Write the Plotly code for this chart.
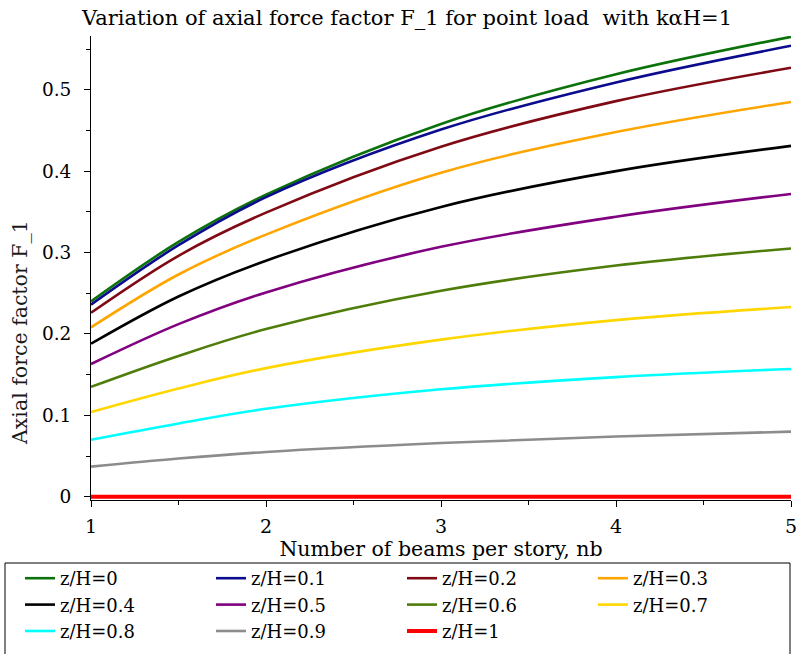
import plotly.graph_objects as go

# Number of beams per story
nb = [1, 1.5, 2, 3, 4, 5]

# Axial force factor F_1 for each relative height z/H
f_z00 = [0.240, 0.313, 0.371, 0.458, 0.519, 0.565]
f_z01 = [0.236, 0.309, 0.368, 0.451, 0.509, 0.554]
f_z02 = [0.226, 0.296, 0.349, 0.430, 0.486, 0.527]
f_z03 = [0.208, 0.273, 0.322, 0.398, 0.448, 0.485]
f_z04 = [0.188, 0.246, 0.290, 0.356, 0.400, 0.431]
f_z05 = [0.163, 0.212, 0.251, 0.307, 0.344, 0.372]
f_z06 = [0.135, 0.173, 0.206, 0.253, 0.284, 0.305]
f_z07 = [0.104, 0.133, 0.158, 0.193, 0.217, 0.233]
f_z08 = [0.070, 0.090, 0.108, 0.132, 0.147, 0.157]
f_z09 = [0.037, 0.047, 0.055, 0.066, 0.074, 0.080]
f_z10 = [0.0, 0.0, 0.0, 0.0, 0.0, 0.0]

labels = ["z/H=0", "z/H=0.1", "z/H=0.2", "z/H=0.3", "z/H=0.4", "z/H=0.5",
          "z/H=0.6", "z/H=0.7", "z/H=0.8", "z/H=0.9", "z/H=1"]
series = [f_z00, f_z01, f_z02, f_z03, f_z04, f_z05,
          f_z06, f_z07, f_z08, f_z09, f_z10]
colors = ["#0b720b", "#0b0b8e", "#800a14", "#ffa500", "#000000", "#800080",
          "#4e7d0a", "#ffd700", "#00ffff", "#8c8c8c", "#ff0000"]

FONT = "DejaVu Serif, Liberation Serif, serif"
W, H = 796, 654
# plot area in pixels
PL, PR, PT, PB = 91, 791, 36, 500
PW, PH = PR - PL, PB - PT


def px_x(x):
    return (x - PL) / PW


def px_y(y):
    return (PB - y) / PH


fig = go.Figure()
for name, ys, c in zip(labels, series, colors):
    fig.add_trace(go.Scatter(
        x=nb, y=ys, name=name, mode="lines",
        line=dict(color=c, width=4 if name == "z/H=1" else 2.6,
                  shape="spline", smoothing=1.0),
    ))

fig.update_layout(
    width=W, height=H,
    margin=dict(l=PL, r=W - PR, t=PT, b=H - PB, autoexpand=False),
    paper_bgcolor="white", plot_bgcolor="white",
    font=dict(family=FONT, size=18, color="black"),
    title=dict(
        text="Variation of axial force factor F_1 for point load  with k\u03b1H=1",
        x=407 / W, xanchor="center", xref="container",
        y=1 - 18 / H, yanchor="middle", yref="container",
        font=dict(family=FONT, size=21, color="black"),
    ),
    xaxis=dict(
        range=[1, 5], showgrid=False, zeroline=False,
        showline=True, linecolor="black", linewidth=1,
        ticks="outside", ticklen=6, tickcolor="black",
        tickvals=[1, 2, 3, 4, 5], ticktext=["1", "2", "3", "4", "5"],
        minor=dict(tickvals=[1.5, 2.5, 3.5, 4.5], ticks="outside",
                   ticklen=4, tickcolor="black"),
        ticklabelstandoff=3, ticklabeloverflow="allow",
        title=dict(text="Number of beams per story, nb",
                   font=dict(family=FONT, size=20.5), standoff=2),
        tickfont=dict(family=FONT, size=19),
    ),
    yaxis=dict(
        range=[-0.004, 0.566], showgrid=False, zeroline=False,
        showline=True, linecolor="black", linewidth=1,
        ticks="outside", ticklen=6, tickcolor="black",
        tickvals=[0, 0.1, 0.2, 0.3, 0.4, 0.5],
        ticktext=["0", "0.1", "0.2", "0.3", "0.4", "0.5"],
        minor=dict(tickvals=[0.05, 0.15, 0.25, 0.35, 0.45, 0.55],
                   ticks="outside", ticklen=4, tickcolor="black"),
        ticklabelstandoff=9, ticklabeloverflow="allow",
        tickfont=dict(family=FONT, size=18.5),
    ),
    legend=dict(
        orientation="h",
        x=px_x(20), xanchor="left", y=px_y(560), yanchor="top",
        entrywidth=146, entrywidthmode="pixels",
        bgcolor="rgba(0,0,0,0)", borderwidth=0,
        font=dict(family=FONT, size=18, color="black"),
        tracegroupgap=0,
    ),
    annotations=[dict(
        text="Axial force factor F_1", textangle=-90,
        xref="paper", yref="paper", x=px_x(20), y=px_y(333),
        xanchor="center", yanchor="middle", showarrow=False,
        font=dict(family=FONT, size=20.5, color="#1a1a1a"),
    )],
    shapes=[dict(
        type="rect", xref="paper", yref="paper",
        x0=px_x(5), x1=px_x(790), y0=px_y(563), y1=px_y(665),
        line=dict(color="black", width=1), fillcolor="rgba(0,0,0,0)",
    )],
)

fig.write_html("out.html")
